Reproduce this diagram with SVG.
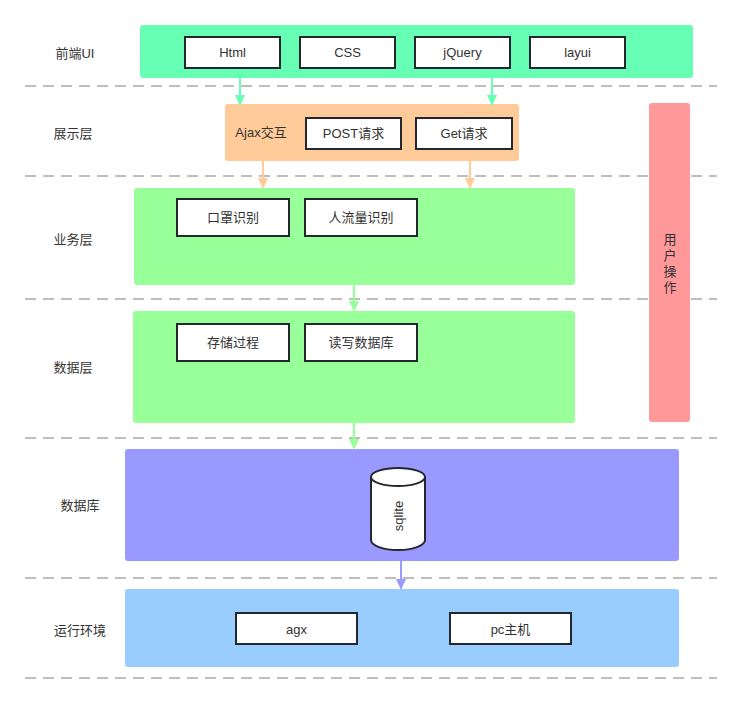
<svg xmlns="http://www.w3.org/2000/svg" width="742" height="714" viewBox="0 0 742 714">
<style>
text{font-family:"Liberation Sans","Noto Sans CJK SC",sans-serif;font-size:13px;fill:#333;text-anchor:middle;dominant-baseline:central}
.box{fill:#fff;stroke:#23272e;stroke-width:2}
.dash{stroke:#7f7f7f;stroke-width:1.2;stroke-dasharray:11 7;fill:none}
</style>
<g id="lanes">
<line class="dash" x1="25" y1="86" x2="717" y2="86"/>
<line class="dash" x1="25" y1="176" x2="717" y2="176"/>
<line class="dash" x1="25" y1="299" x2="717" y2="299"/>
<line class="dash" x1="25" y1="438" x2="717" y2="438"/>
<line class="dash" x1="25" y1="578" x2="717" y2="578"/>
<line class="dash" x1="25" y1="678" x2="717" y2="678"/>
<text x="75" y="53">前端UI</text>
<text x="73" y="133">展示层</text>
<text x="73" y="239">业务层</text>
<text x="73" y="367">数据层</text>
<text x="80" y="505">数据库</text>
<text x="80" y="630">运行环境</text>
</g>
<g id="frontend">
<rect x="140" y="25" width="553" height="53" rx="3" fill="#66FFB3"/>
<rect class="box" x="185" y="37" width="95" height="31"/><text x="232.5" y="52.5">Html</text>
<rect class="box" x="300" y="37" width="95" height="31"/><text x="347.5" y="52.5">CSS</text>
<rect class="box" x="415" y="37" width="95" height="31"/><text x="462.5" y="52.5">jQuery</text>
<rect class="box" x="530" y="37" width="95" height="31"/><text x="577.5" y="52.5">layui</text>
</g>
<g id="display">
<rect x="225" y="104" width="294" height="57" rx="3" fill="#FFCC99"/>
<text x="261" y="132">Ajax交互</text>
<rect class="box" x="306" y="118" width="95" height="31"/><text x="353.5" y="133.5">POST请求</text>
<rect class="box" x="416" y="118" width="96" height="31"/><text x="464" y="133.5">Get请求</text>
</g>
<g id="user">
<rect x="649" y="103" width="41" height="319" rx="3" fill="#FF9999"/>
<text x="670" y="239">用</text>
<text x="670" y="255">户</text>
<text x="670" y="271">操</text>
<text x="670" y="287">作</text>
</g>
<g id="business">
<rect x="134" y="188" width="441" height="97" rx="3" fill="#99FF99"/>
<rect class="box" x="177" y="199" width="112" height="37"/><text x="233" y="217.5">口罩识别</text>
<rect class="box" x="305" y="199" width="112" height="37"/><text x="361" y="217.5">人流量识别</text>
</g>
<g id="data">
<rect x="133" y="311" width="442" height="112" rx="3" fill="#99FF99"/>
<rect class="box" x="177" y="324" width="112" height="37"/><text x="233" y="342.5">存储过程</text>
<rect class="box" x="305" y="324" width="112" height="37"/><text x="361" y="342.5">读写数据库</text>
</g>
<g id="database">
<rect x="125" y="449" width="554" height="112" rx="3" fill="#9999FF"/>
<path d="M371,477 L371,540 A27,10 0 0 0 425,540 L425,477" fill="#fff" stroke="#23272e" stroke-width="2"/>
<ellipse cx="398" cy="477" rx="27" ry="9" fill="#fff" stroke="#23272e" stroke-width="2"/>
<text x="398" y="516" transform="rotate(-90 398 516)">sqlite</text>
</g>
<g id="runtime">
<rect x="125" y="589" width="554" height="78" rx="3" fill="#99CCFF"/>
<rect class="box" x="236" y="613" width="121" height="31"/><text x="296.5" y="629">agx</text>
<rect class="box" x="450" y="613" width="121" height="31"/><text x="510.5" y="629">pc主机</text>
</g>
<g id="connectors" stroke-width="2">
<line x1="240" y1="78" x2="240" y2="96" stroke="#66FFB3"/><path d="M235,95 L245,95 L240,106 Z" fill="#66FFB3"/>
<line x1="492" y1="78" x2="492" y2="96" stroke="#66FFB3"/><path d="M487,95 L497,95 L492,106 Z" fill="#66FFB3"/>
<line x1="263" y1="161" x2="263" y2="179" stroke="#FFCC99"/><path d="M258,178 L268,178 L263,189 Z" fill="#FFCC99"/>
<line x1="470" y1="161" x2="470" y2="179" stroke="#FFCC99"/><path d="M465,178 L475,178 L470,189 Z" fill="#FFCC99"/>
<line x1="354" y1="285" x2="354" y2="302" stroke="#99FF99"/><path d="M349,301 L359,301 L354,312 Z" fill="#99FF99"/>
<line x1="354" y1="423" x2="354" y2="440" stroke="#99FF99"/><path d="M349,439 L359,439 L354,450 Z" fill="#99FF99"/>
<line x1="401" y1="561" x2="401" y2="580" stroke="#9999FF"/><path d="M396,579 L406,579 L401,590 Z" fill="#9999FF"/>
</g>
</svg>
